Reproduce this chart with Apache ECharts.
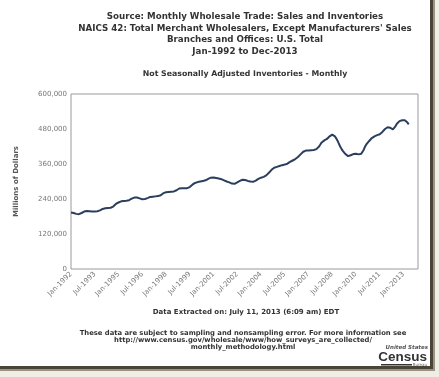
<!DOCTYPE html>
<html>
<head>
<meta charset="utf-8">
<script src="https://cdn.jsdelivr.net/npm/echarts@6/dist/echarts.min.js"></script>
<style>
html, body { margin: 0; padding: 0; background: #fff; }
#chart { width: 439px; height: 377px; }
</style>
</head>
<body>
<div id="chart"></div>
<script>
// monthly inventories, millions of dollars (in thousands)
const y1992 = [194, 193, 192, 190, 189, 188, 188, 190, 192, 195, 197, 198];
const y1993 = [199, 199, 198, 198, 197, 197, 197, 197, 198, 199, 201, 203];
const y1994 = [206, 207, 208, 208, 209, 210, 210, 211, 214, 219, 223, 225];
const y1995 = [228, 231, 232, 233, 233, 234, 234, 235, 236, 238, 241, 243];
const y1996 = [245, 246, 245, 244, 242, 240, 239, 239, 240, 241, 243, 245];
const y1997 = [247, 248, 248, 249, 249, 250, 250, 251, 253, 256, 260, 262];
const y1998 = [263, 264, 264, 265, 265, 265, 266, 268, 270, 273, 276, 277];
const y1999 = [277, 277, 277, 277, 277, 278, 281, 285, 289, 292, 295, 297];
const y2000 = [298, 299, 300, 301, 302, 303, 304, 306, 309, 311, 313, 314];
const y2001 = [314, 313, 312, 311, 310, 309, 308, 306, 304, 302, 300, 299];
const y2002 = [297, 295, 293, 292, 292, 294, 297, 300, 302, 304, 306, 306];
const y2003 = [305, 304, 302, 301, 300, 299, 299, 300, 303, 306, 309, 311];
const y2004 = [313, 314, 316, 318, 321, 325, 330, 335, 340, 344, 347, 349];
const y2005 = [350, 351, 353, 355, 356, 357, 358, 359, 361, 364, 367, 370];
const y2006 = [372, 375, 377, 380, 384, 389, 393, 398, 402, 405, 406, 406];
const y2007 = [406, 407, 407, 407, 408, 409, 411, 415, 420, 427, 434, 439];
const y2008 = [441, 443, 446, 450, 455, 459, 461, 460, 455, 448, 440, 430];
const y2009 = [420, 412, 405, 399, 394, 389, 387, 388, 390, 392, 394, 395];
const y2010 = [395, 394, 393, 393, 395, 401, 410, 421, 428, 434, 439, 444];
const y2011 = [449, 452, 455, 457, 459, 460, 462, 466, 470, 475, 480, 484];
const y2012 = [486, 487, 484, 480, 479, 483, 490, 498, 504, 507, 509, 510];
const y2013 = [510, 510, 507, 502, 496];

const inventories = [].concat(y1992, y1993, y1994, y1995, y1996, y1997, y1998, y1999,
  y2000, y2001, y2002, y2003, y2004, y2005, y2006, y2007, y2008, y2009, y2010,
  y2011, y2012, y2013).map(v => v * 1000);

const monthNames = ['Jan', 'Feb', 'Mar', 'Apr', 'May', 'Jun', 'Jul', 'Aug', 'Sep', 'Oct', 'Nov', 'Dec'];
const months = [];
for (let yr = 1992; yr <= 2013; yr++) {
  monthNames.forEach(m => months.push(m + '-' + yr));
}

const titleLines = [
  'Source: Monthly Wholesale Trade: Sales and Inventories',
  'NAICS 42: Total Merchant Wholesalers, Except Manufacturers\' Sales',
  'Branches and Offices: U.S. Total',
  'Jan-1992 to Dec-2013',
];
const subTitle = 'Not Seasonally Adjusted Inventories - Monthly';
const extracted = 'Data Extracted on: July 11, 2013 (6:09 am) EDT';
const footLines = [
  'These data are subject to sampling and nonsampling error. For more information see',
  'http://www.census.gov/wholesale/www/how_surveys_are_collected/',
  'monthly_methodology.html',
];

const font = '"DejaVu Sans", Verdana, sans-serif';
const cx = 245; // texts are centred over the plot
const chart = echarts.init(document.getElementById('chart'));

chart.setOption({
  backgroundColor: '#fff',
  animation: false,
  grid: {
    left: 71, right: 21, top: 94, bottom: 108,
    show: true, borderColor: '#9a9a9a', borderWidth: 1,
  },
  xAxis: {
    type: 'category',
    data: months,
    boundaryGap: false,
    axisLine: { show: false },
    axisTick: { show: false },
    splitLine: { show: false },
    axisLabel: {
      interval: 17,
      rotate: 45,
      color: '#777',
      fontFamily: font,
      fontSize: 7,
      margin: 4,
    },
  },
  yAxis: {
    type: 'value',
    min: 0,
    max: 600000,
    interval: 120000,
    name: 'Millions of Dollars',
    nameLocation: 'middle',
    nameGap: 51,
    nameTextStyle: { color: '#555', fontFamily: font, fontSize: 7, fontWeight: 'bold' },
    axisLine: { show: false },
    axisTick: { show: false },
    splitLine: { show: false },
    axisLabel: {
      color: '#777',
      fontFamily: font,
      fontSize: 7,
      margin: 4,
      formatter: v => v.toLocaleString('en-US'),
    },
  },
  series: [{
    type: 'line',
    data: inventories,
    showSymbol: false,
    lineStyle: { color: '#2c3e5e', width: 2 },
  }],
  graphic: [
    {
      type: 'text', x: cx, y: 11,
      style: {
        text: titleLines.join('\n'), fill: '#333', font: 'bold 8.7px ' + font,
        textAlign: 'center', lineHeight: 11.5,
      },
    },
    {
      type: 'text', x: cx, y: 70,
      style: { text: subTitle, fill: '#333', font: 'bold 7.8px ' + font, textAlign: 'center' },
    },
    {
      type: 'text', x: cx + 1, y: 309,
      style: { text: extracted, fill: '#333', font: 'bold 7px ' + font, textAlign: 'center' },
    },
    {
      type: 'text', x: cx - 2, y: 330,
      style: {
        text: footLines.join('\n'), fill: '#333', font: 'bold 6.8px ' + font,
        textAlign: 'center', lineHeight: 6.8,
      },
    },
    // Census logo
    {
      type: 'text', x: 428, y: 345,
      style: { text: 'United States', fill: '#555', font: 'italic bold 5.5px ' + font, textAlign: 'right' },
    },
    {
      type: 'text', x: 427, y: 350,
      style: { text: 'Census', fill: '#333', font: 'bold 13.5px "Liberation Sans", Arial, sans-serif', textAlign: 'right' },
    },
    {
      type: 'rect', shape: { x: 381, y: 364, width: 31, height: 1.5 },
      style: { fill: '#333' },
    },
    {
      type: 'text', x: 427, y: 362.5,
      style: { text: 'Bureau', fill: '#666', font: '4px ' + font, textAlign: 'right' },
    },
    // frame shadow
    { type: 'rect', shape: { x: 435, y: 0, width: 4, height: 377 }, style: { fill: '#f0ede4' } },
    { type: 'rect', shape: { x: 0, y: 371, width: 439, height: 6 }, style: { fill: '#f0ede4' } },
    { type: 'rect', shape: { x: 430, y: 0, width: 3, height: 369 }, style: { fill: '#4a4438' } },
    { type: 'rect', shape: { x: 433, y: 0, width: 2, height: 371 }, style: { fill: '#9a9384' } },
    { type: 'rect', shape: { x: 0, y: 366, width: 433, height: 3 }, style: { fill: '#4a4438' } },
    { type: 'rect', shape: { x: 0, y: 369, width: 435, height: 2 }, style: { fill: '#9a9384' } },
  ],
});
</script>
</body>
</html>
